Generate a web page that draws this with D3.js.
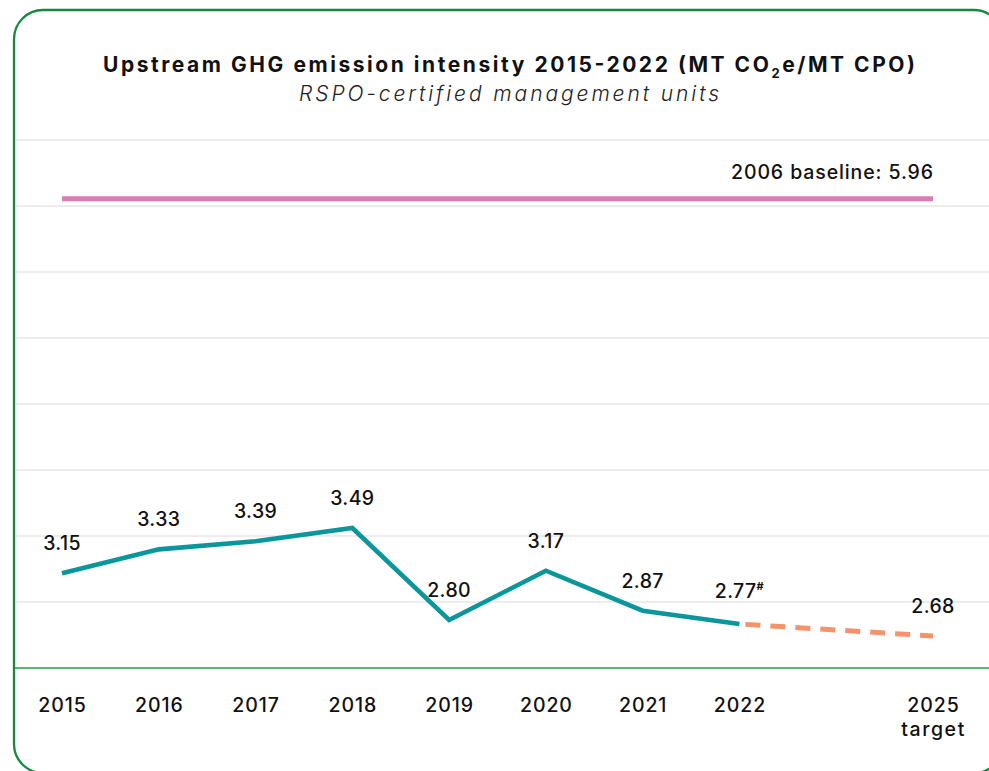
<!DOCTYPE html>
<html>
<head>
<meta charset="utf-8">
<script src="https://cdn.jsdelivr.net/npm/d3@7"></script>
<style>
  html, body { margin: 0; padding: 0; background: #fff; }
  svg { display: block; font-family: Inter, "Open Sans", sans-serif; }
</style>
</head>
<body>
<svg id="chart" width="989" height="771"></svg>
<script>
const years = ['2015', '2016', '2017', '2018', '2019', '2020', '2021', '2022']
const values = [3.15, 3.33, 3.39, 3.49, 2.80, 3.17, 2.87, 2.77]
const targetYear = '2025'
const targetValue = 2.68
const baselineValue = 5.96
const valueLabels = ['3.15', '3.33', '3.39', '3.49', '2.80', '3.17', '2.87', '2.77']
const targetLabel = '2.68'
const baselineLabel = '2006 baseline: 5.96'

const W = 989
const H = 771
const PLOT = { left: 62, right: 933, top: 140, bottom: 668 }
const Y_MIN = 2.44
const Y_MAX = 6.4

const svg = d3.select('#chart')

// frame
svg.append('rect')
  .attr('x', 14).attr('y', 10)
  .attr('width', 989).attr('height', 763)
  .attr('rx', 29).attr('ry', 29)
  .attr('fill', '#fff')
  .attr('stroke', '#16893f')
  .attr('stroke-width', 2.3)

// title (Montserrat is not installed, so the text is stretched to its width)
const title = svg.append('text')
  .attr('x', 509).attr('y', 72)
  .attr('text-anchor', 'middle')
  .attr('font-size', 21)
  .attr('font-weight', 700)
  .attr('fill', '#111')
  .attr('textLength', 812)
  .attr('lengthAdjust', 'spacing')
title.append('tspan').text('Upstream GHG emission intensity 2015-2022 (MT CO')
title.append('tspan').text('2').attr('font-size', 13).attr('dy', 6)
title.append('tspan').text('e/MT CPO)').attr('dy', -6)

svg.append('text')
  .attr('x', 509).attr('y', 101)
  .attr('text-anchor', 'middle')
  .attr('font-size', 21)
  .attr('font-style', 'italic')
  .attr('font-weight', 300)
  .attr('fill', '#222')
  .attr('textLength', 420)
  .attr('lengthAdjust', 'spacing')
  .text('RSPO-certified management units')

// =================== scales =================
const xScale = d3.scalePoint()
  .domain([...years, 'gap', targetYear])
  .range([PLOT.left, PLOT.right])

const yScale = d3.scaleLinear()
  .domain([Y_MIN, Y_MAX])
  .range([PLOT.bottom, PLOT.top])

// gridlines: the plot height split in eight equal bands
const gridValues = d3.range(1, 9).map(i => Y_MIN + i * (Y_MAX - Y_MIN) / 8)
svg.append('g')
  .selectAll('line')
  .data(gridValues)
  .join('line')
  .attr('x1', 15).attr('x2', W)
  .attr('y1', d => yScale(d)).attr('y2', d => yScale(d))
  .attr('stroke', '#e6e6e6')
  .attr('stroke-width', 1.5)

// x axis
const xAxis = d3.axisBottom(xScale)
  .tickValues([...years, targetYear])
  .tickSize(0)
  .tickPadding(0)

const axisG = svg.append('g')
  .attr('transform', `translate(0,${PLOT.bottom})`)
  .call(xAxis)
axisG.select('.domain').remove()
axisG.append('line')
  .attr('x1', 15).attr('x2', W)
  .attr('stroke', '#2a9a4c')
  .attr('stroke-width', 1.5)
axisG.selectAll('.tick text')
  .attr('y', 44)
  .attr('dy', 0)
  .attr('font-family', 'Inter, sans-serif')
  .attr('font-size', 19.5)
  .attr('font-weight', 500)
  .attr('letter-spacing', 0.9)
  .attr('fill', '#111')
axisG.selectAll('.tick')
  .filter(d => d === targetYear)
  .select('text')
  .append('tspan')
  .attr('x', 0).attr('dy', 24)
  .attr('letter-spacing', 1.6)
  .text('target')

// baseline
svg.append('line')
  .attr('x1', xScale(years[0])).attr('x2', xScale(targetYear))
  .attr('y1', yScale(baselineValue)).attr('y2', yScale(baselineValue))
  .attr('stroke', '#dc7bb2')
  .attr('stroke-width', 5)

svg.append('text')
  .attr('x', xScale(targetYear)).attr('y', yScale(baselineValue) - 20)
  .attr('text-anchor', 'end')
  .attr('font-size', 19.5)
  .attr('font-weight', 500)
  .attr('fill', '#111')
  .attr('textLength', 202)
  .attr('lengthAdjust', 'spacing')
  .text(baselineLabel)

// dashed target segment
const line = d3.line().x(d => xScale(d[0])).y(d => yScale(d[1]))
svg.append('path')
  .datum([[years[years.length - 1], values[values.length - 1]], [targetYear, targetValue]])
  .attr('d', line)
  .attr('fill', 'none')
  .attr('stroke', '#f5936a')
  .attr('stroke-width', 5)
  .attr('stroke-dasharray', '15,10')
  .attr('stroke-dashoffset', 19)

// actuals line
svg.append('path')
  .datum(years.map((y, i) => [y, values[i]]))
  .attr('d', line)
  .attr('fill', 'none')
  .attr('stroke', '#0a969a')
  .attr('stroke-width', 4.6)
  .attr('stroke-linejoin', 'miter')

// value labels
const labelG = svg.append('g')
  .attr('font-size', 19.5)
  .attr('font-weight', 500)
  .attr('fill', '#111')
  .attr('text-anchor', 'middle')
  .attr('letter-spacing', 0.4)

years.forEach((y, i) => {
  const t = labelG.append('text')
    .attr('x', xScale(y))
    .attr('y', yScale(values[i]) - (i === years.length - 1 ? 26 : 23))
    .text(valueLabels[i])
  if (i === years.length - 1) {
    t.append('tspan').text('#').attr('font-size', 11).attr('font-weight', 700).attr('dy', -8)
  }
})

labelG.append('text')
  .attr('x', xScale(targetYear))
  .attr('y', yScale(targetValue) - 23)
  .text(targetLabel)
</script>
</body>
</html>
